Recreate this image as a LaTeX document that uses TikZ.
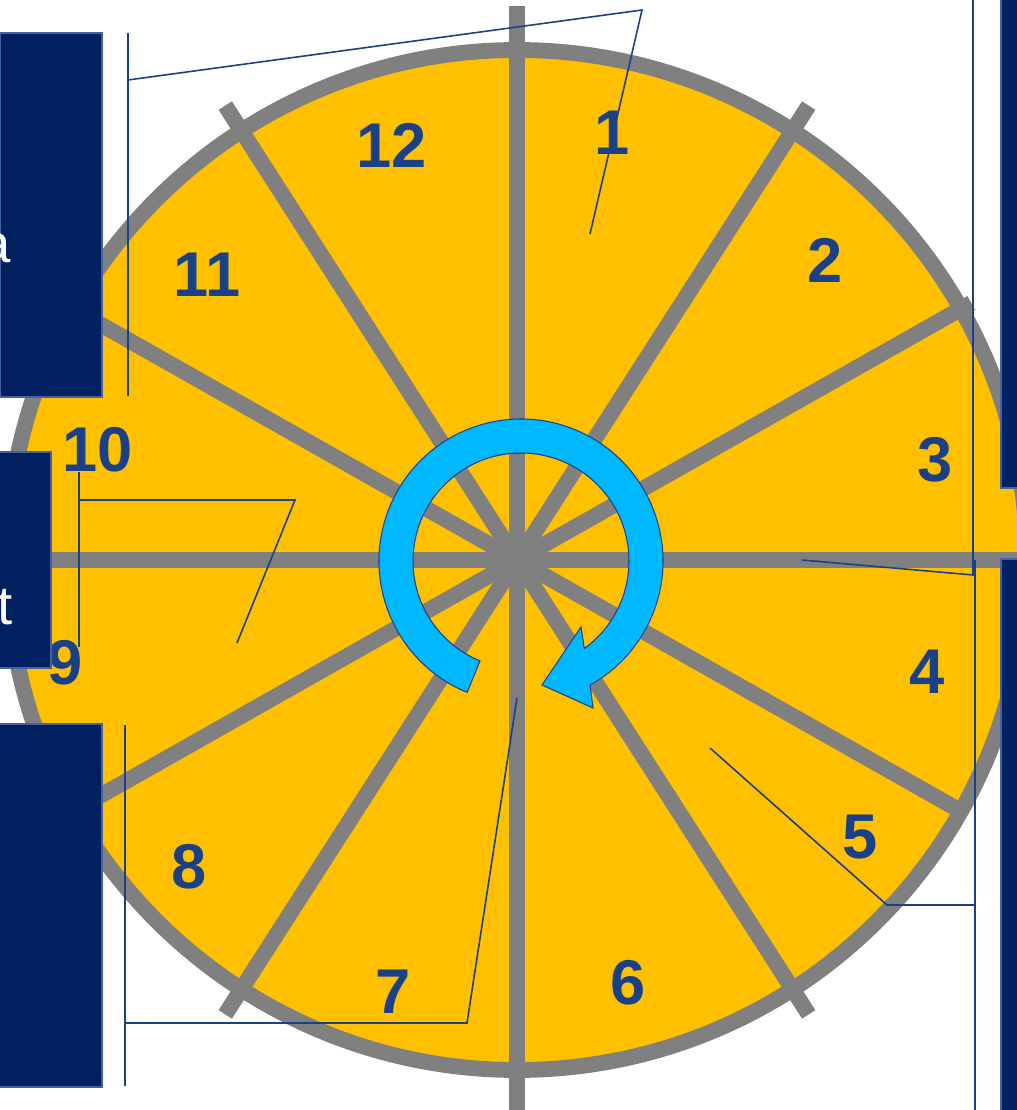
\documentclass[tikz,border=0pt]{standalone}
\usepackage{fontspec}
\setmainfont{Liberation Sans}

\definecolor{wheelyellow}{RGB}{255,192,0}
\definecolor{spokegray}{RGB}{128,128,128}
\definecolor{boxnavy}{RGB}{0,32,96}
\definecolor{boxedge}{RGB}{68,98,160}
\definecolor{numblue}{RGB}{26,64,134}
\definecolor{turnblue}{RGB}{0,184,255}

\tikzset{
  spoke/.style={draw=spokegray, line width=9pt},
  sectornum/.style={font=\fontsize{36}{40}\selectfont\bfseries, text=numblue, inner sep=0pt},
  sidebox/.style={fill=boxnavy, draw=boxedge, line width=0.6pt},
  sidetext/.style={font=\fontsize{31}{36}\selectfont, text=white, inner sep=0pt, anchor=base east},
  callout/.style={draw=numblue, line width=0.9pt},
}

\begin{document}
\begin{tikzpicture}[x=0.02cm, y=0.02cm]
  \useasboundingbox (0,0) rectangle (1017,1110);

  \coordinate (O) at (517,550);

  \fill[wheelyellow] (O) circle (510);
  \foreach \a/\len in {0/520, 29.5/522, 57.3/540, 90/554, 122.7/540, 150.5/522,
                       180/530, 209.5/522, 237.3/540, 270/570, 302.7/540, 330.5/508}
    \draw[spoke] (O) -- ++(\a:\len);
  \draw[spoke] (O) circle (510);

  \begin{scope}[shift={(521,549)}]
    \draw[fill=turnblue, draw=numblue, line width=0.6pt]
      (247.7:142) arc[start angle=247.7, end angle=-60.9, radius=142]
      -- (72,-147) -- (21,-124) -- (60,-66)
      -- (-54.1:108) arc[start angle=-54.1, end angle=247.7, radius=108] -- cycle;
  \end{scope}

  \foreach \n/\x/\y in {1/612/977, 2/825/850, 3/935/650, 4/927/438, 5/860/273, 6/628/127,
                        7/393/118, 8/189/243, 9/65/447, 10/98/660, 11/207/835, 12/392/965}
    \node[sectornum] (s\n) at (\x,\y) {\n};

  \draw[sidebox] (0,713) rectangle (102,1077);
  \draw[sidebox] (-5,442) rectangle (51,658);
  \draw[sidebox] (-5,23) rectangle (102,386);
  \draw[sidebox] (1001,622) rectangle (1030,1120);
  \draw[sidebox] (1001,-10) rectangle (1030,551);

  \node[sidetext] (ta) at (11,847) {a};
  \node[sidetext] (tt) at (13,485) {t};

  \coordinate (a1) at (128,1077);
  \coordinate (a2) at (128,714);
  \coordinate (a3) at (128,1030);
  \coordinate (a4) at (642,1100);
  \coordinate (a5) at (590,876);
  \draw[callout] (a1) -- (a2);
  \draw[callout] (a3) -- (a4) -- (a5);

  \coordinate (b1) at (79,638);
  \coordinate (b2) at (79,463);
  \coordinate (b3) at (79,610);
  \coordinate (b4) at (295,610);
  \coordinate (b5) at (237,467);
  \draw[callout] (b1) -- (b2);
  \draw[callout] (b3) -- (b4) -- (b5);

  \coordinate (c1) at (973,1115);
  \coordinate (c2) at (973,535);
  \coordinate (c3) at (802,550);
  \coordinate (c4) at (975,550);
  \coordinate (c5) at (975,-5);
  \coordinate (c6) at (975,205);
  \coordinate (c7) at (887,205);
  \coordinate (c8) at (710,362);
  \draw[callout] (c1) -- (c2) -- (c3);
  \draw[callout] (c4) -- (c5);
  \draw[callout] (c6) -- (c7) -- (c8);

  \coordinate (d1) at (125,385);
  \coordinate (d2) at (125,24);
  \coordinate (d3) at (125,87);
  \coordinate (d4) at (467,87);
  \coordinate (d5) at (517,412);
  \draw[callout] (d1) -- (d2);
  \draw[callout] (d3) -- (d4) -- (d5);
\end{tikzpicture}
\end{document}
